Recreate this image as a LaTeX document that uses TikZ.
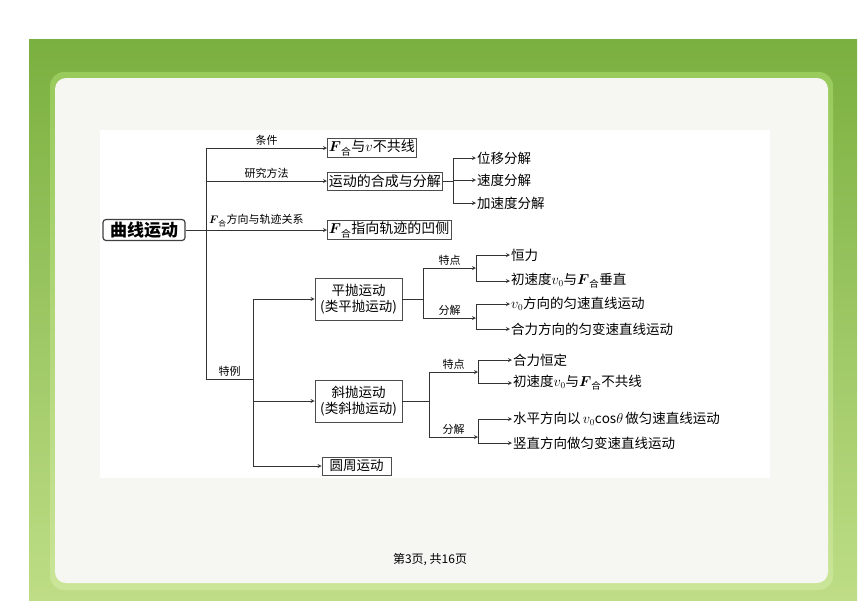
\documentclass[tikz,border=0pt]{standalone}
\usepackage{amsmath}
\usepackage{fontspec}
\setmainfont{Noto Sans CJK SC}
\usepackage{xcolor}
\usepackage{tikz}
\usetikzlibrary{shapes.geometric, arrows}

\definecolor{greentop}{RGB}{122,176,64}
\definecolor{greenbot}{RGB}{190,221,134}
\definecolor{rimtop}{RGB}{152,202,92}
\definecolor{rimbot}{RGB}{202,229,152}
\definecolor{panel}{RGB}{246,247,242}

\tikzstyle{arrow} = [->,>=stealth,line width=0.8pt,draw=black!80]
\tikzstyle{line} = [line width=0.8pt,draw=black!80]
\tikzstyle{mainbox} = [draw=black!75,line width=1.2pt,rounded corners=3pt,minimum width=82pt,minimum height=21pt,inner sep=1pt,font=\fontsize{17}{18}\selectfont\bfseries]
\tikzstyle{box} = [draw=black!70,line width=0.9pt,anchor=west,inner sep=1.5pt,minimum height=18pt,font=\fontsize{14}{15}\selectfont]
\tikzstyle{twobox} = [draw=black!70,line width=0.9pt,align=center,minimum width=87pt,minimum height=42pt,inner sep=1pt,font=\fontsize{13.5}{16}\selectfont]
\tikzstyle{item} = [anchor=west,inner sep=1pt,font=\fontsize{13.5}{15}\selectfont]
\tikzstyle{lbl} = [inner sep=2.5pt,font=\fontsize{11}{12}\selectfont]

\newcommand{\Fhe}{$\boldsymbol{F}_{\text{合}}$}
\newcommand{\vz}{$v_0$}

\begin{document}
\begin{tikzpicture}[x=1pt,y=-1pt]
			
			%Background
			\fill [white] (0,0) rectangle (860,608);
			\useasboundingbox (0,0) rectangle (860,608);
			\shade [top color=greentop, bottom color=greenbot] (29,39) rectangle (857,600);
			\shade [top color=rimtop, bottom color=rimbot, rounded corners=14pt] (50,72) rectangle (833,590);
			\fill [panel, rounded corners=11pt] (55,78) rectangle (828,583);
			\fill [white] (100,130) rectangle (770,478);
			
			% Main node and first level
			\node [mainbox] (curve) at (144,230) {曲线运动};
			\node [box] (cond) at (327,148) {\Fhe 与$v$不共线};
			\node [box] (comp) at (327,181) {运动的合成与分解};
			\node [box] (dir) at (327,230) {\Fhe 指向轨迹的凹侧};
			
			\coordinate (t1-top) at (206,148);
			\coordinate (t1-bot) at (206,379);
			\coordinate (t2-top) at (253,299);
			\coordinate (t2-bot) at (253,466);
			
			\draw [line] (t1-top) -- (t1-bot);
			\draw [arrow] (t1-top) -- node [lbl, above] (l-cond) {条件} (cond);
			\draw [arrow] (t1-top |- comp) -- node [lbl, above] (l-comp) {研究方法} (comp);
			\draw [arrow] (curve) -- node [lbl, above] (l-dir) {\Fhe 方向与轨迹关系} (dir);
			
			% Decomposition
			\coordinate (c-j) at (453,181);
			\node [item] (disp) at (476,158) {位移分解};
			\node [item] (velo) at (476,180) {速度分解};
			\node [item] (acce) at (476,203) {加速度分解};
			\draw [line] (comp) -- (c-j);
			\draw [line] (c-j |- disp) -- (c-j |- acce);
			\draw [arrow] (c-j |- disp) -- (disp);
			\draw [arrow] (c-j |- velo) -- (velo);
			\draw [arrow] (c-j |- acce) -- (acce);
			
			% Special cases
			\draw [line] (t1-bot) -- node [lbl, above] (l-spec) {特例} (t2-top |- t1-bot);
			\draw [line] (t2-top) -- (t2-bot);
			\node [twobox] (flat) at (358.5,299) {平抛运动\\(类平抛运动)};
			\node [twobox] (obl) at (358.5,401) {斜抛运动\\(类斜抛运动)};
			\node [box, anchor=center, font=\fontsize{13.5}{15}\selectfont, minimum width=69pt] (circ) at (356.5,466) {圆周运动};
			\draw [arrow] (t2-top) -- (flat);
			\draw [arrow] (t2-top |- obl) -- (obl);
			\draw [arrow] (t2-bot) -- (circ);
			
			% Horizontal projectile
			\coordinate (f-j) at (423,299);
			\coordinate (f-feat) at (476,268);
			\coordinate (f-dec) at (476,318);
			\node [item] (hengli) at (510,255) {恒力};
			\node [item] (perp) at (510,281) {初速度\vz 与\Fhe 垂直};
			\node [item] (unif) at (510,304) {\vz 方向的匀速直线运动};
			\node [item] (accel) at (510,329) {合力方向的匀变速直线运动};
			\draw [line] (flat) -- (f-j);
			\draw [line] (f-j |- f-feat) -- (f-j |- f-dec);
			\draw [arrow] (f-j |- f-feat) -- node [lbl, above] (l-ff) {特点} (f-feat);
			\draw [arrow] (f-j |- f-dec) -- node [lbl, above] (l-fd) {分解} (f-dec);
			\draw [line] (f-feat |- hengli) -- (f-feat |- perp);
			\draw [line] (f-dec |- unif) -- (f-dec |- accel);
			\draw [arrow] (f-feat |- hengli) -- (hengli);
			\draw [arrow] (f-feat |- perp) -- (perp);
			\draw [arrow] (f-dec |- unif) -- (unif);
			\draw [arrow] (f-dec |- accel) -- (accel);
			
			% Oblique projectile
			\coordinate (o-j) at (429,401);
			\coordinate (o-feat) at (478,372);
			\coordinate (o-dec) at (478,437);
			\node [item] (const) at (512,360) {合力恒定};
			\node [item] (ncol) at (512,383) {初速度\vz 与\Fhe 不共线};
			\node [item] (horiz) at (512,419) {水平方向以\,$v_0{\cos}\theta$\,做匀速直线运动};
			\node [item] (vert) at (512,443) {竖直方向做匀变速直线运动};
			\draw [line] (obl) -- (o-j);
			\draw [line] (o-j |- o-feat) -- (o-j |- o-dec);
			\draw [arrow] (o-j |- o-feat) -- node [lbl, above] (l-of) {特点} (o-feat);
			\draw [arrow] (o-j |- o-dec) -- node [lbl, above] (l-od) {分解} (o-dec);
			\draw [line] (o-feat |- const) -- (o-feat |- ncol);
			\draw [line] (o-dec |- horiz) -- (o-dec |- vert);
			\draw [arrow] (o-feat |- const) -- (const);
			\draw [arrow] (o-feat |- ncol) -- (ncol);
			\draw [arrow] (o-dec |- horiz) -- (horiz);
			\draw [arrow] (o-dec |- vert) -- (vert);
			
			% Footer
			\node [font=\fontsize{12}{13}\selectfont] (page) at (430,560) {第3页, 共16页};
			
\end{tikzpicture}
\end{document}
